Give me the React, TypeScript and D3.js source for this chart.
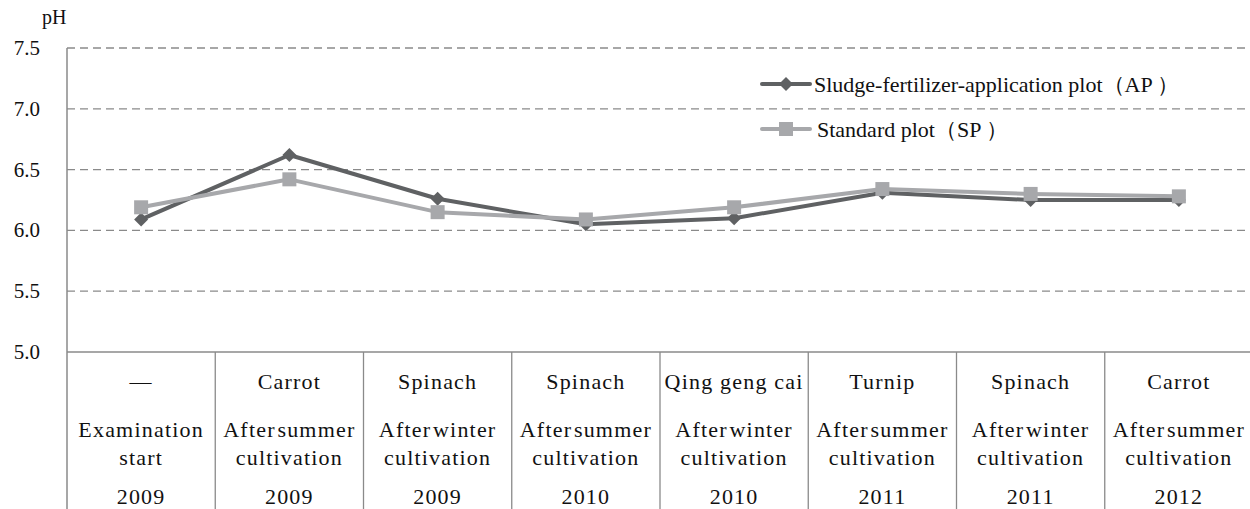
import React from "react";
import * as d3 from "d3";

const crops = ["—", "Carrot", "Spinach", "Spinach", "Qing geng cai", "Turnip", "Spinach", "Carrot"];
const stageLine1 = ["Examination", "After summer", "After winter", "After summer", "After winter", "After summer", "After winter", "After summer"];
const stageLine2 = ["start", "cultivation", "cultivation", "cultivation", "cultivation", "cultivation", "cultivation", "cultivation"];
const years = ["2009", "2009", "2009", "2010", "2010", "2011", "2011", "2012"];
const apValues = [6.09, 6.62, 6.26, 6.05, 6.1, 6.31, 6.25, 6.25];
const spValues = [6.19, 6.42, 6.15, 6.09, 6.19, 6.34, 6.3, 6.28];
const yTicks = [5.0, 5.5, 6.0, 6.5, 7.0, 7.5];
const seriesNames = ["Sludge-fertilizer-application plot（AP ）", "Standard plot（SP ）"];

const W = 1250, H = 509;
const left = 67, right = 1253, top = 48, bottom = 352;
const FONT = "Liberation Serif, Times New Roman, Times, serif";
const DARK = "#5f6163";
const LIGHT = "#a7a8ab";
const AXIS = "#8a8a8a";

export default function App() {
  const idx = d3.range(crops.length);
  const xBand = d3.scaleBand<number>().domain(idx).range([left, right]).padding(0);
  const y = d3.scaleLinear().domain([5, 7.5]).range([bottom, top]);
  const cx = (i: number) => (xBand(i) as number) + xBand.bandwidth() / 2;
  const line = d3.line<number>().x((_, i) => cx(i)).y((d) => y(d));
  const diamond = (x: number, yy: number, r: number) => `M${x},${yy - r}L${x + r},${yy}L${x},${yy + r}L${x - r},${yy}Z`;

  return (
    <svg width={W} height={H} style={{ position: "absolute", left: 0, top: 0, background: "#fff", fontFamily: FONT }}>
      <rect x={0} y={0} width={W} height={H} fill="#fff" />
      {yTicks.filter((t) => t > 5).map((t) => (
        <line key={t} x1={left} x2={W} y1={y(t)} y2={y(t)} stroke={AXIS} strokeWidth={1.3} strokeDasharray="8,5" />
      ))}
      {yTicks.map((t) => (
        <text key={"l" + t} x={40} y={y(t) + 7} fontSize={21} textAnchor="end" fill="#111">{t.toFixed(1)}</text>
      ))}
      <text x={42} y={24} fontSize={20} fill="#111">pH</text>
      <line x1={left} x2={left} y1={top} y2={H} stroke={AXIS} strokeWidth={1.5} />
      <line x1={left} x2={W} y1={bottom} y2={bottom} stroke={AXIS} strokeWidth={1.5} />
      {idx.slice(1).map((i) => (
        <line key={"v" + i} x1={xBand(i)} x2={xBand(i)} y1={bottom} y2={H} stroke={AXIS} strokeWidth={1.3} />
      ))}
      {idx.map((i) => (
        <g key={"c" + i} fontSize={22} fill="#111" textAnchor="middle" letterSpacing={1.2}>
          <text x={cx(i)} y={389}>{crops[i]}</text>
          <text x={cx(i)} y={437} wordSpacing={-5}>{stageLine1[i]}</text>
          <text x={cx(i)} y={465}>{stageLine2[i]}</text>
          <text x={cx(i)} y={504}>{years[i]}</text>
        </g>
      ))}
      <path d={line(apValues) as string} fill="none" stroke={DARK} strokeWidth={4} strokeLinejoin="round" />
      {apValues.map((v, i) => (
        <path key={"ap" + i} d={diamond(cx(i), y(v), 7)} fill={DARK} />
      ))}
      <path d={line(spValues) as string} fill="none" stroke={LIGHT} strokeWidth={4} strokeLinejoin="round" />
      {spValues.map((v, i) => (
        <rect key={"sp" + i} x={cx(i) - 7} y={y(v) - 7} width={14} height={14} fill={LIGHT} />
      ))}
      <line x1={762} x2={810} y1={84} y2={84} stroke={DARK} strokeWidth={4} strokeLinecap="round" />
      <path d={diamond(786, 84, 7)} fill={DARK} />
      <text x={814} y={92} fontSize={22} fill="#111">{seriesNames[0]}</text>
      <line x1={762} x2={810} y1={129} y2={129} stroke={LIGHT} strokeWidth={4} strokeLinecap="round" />
      <rect x={779} y={122} width={14} height={14} fill={LIGHT} />
      <text x={817} y={137} fontSize={22} fill="#111">{seriesNames[1]}</text>
    </svg>
  );
}
